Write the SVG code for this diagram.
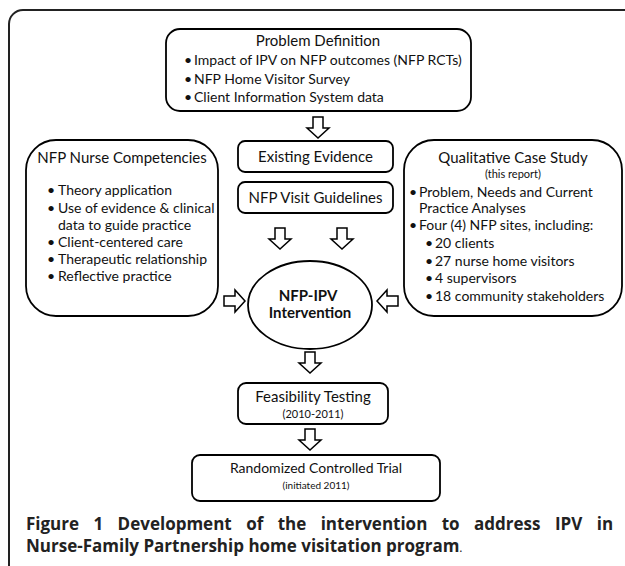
<svg xmlns="http://www.w3.org/2000/svg" width="625" height="566" viewBox="0 0 625 566">
<style>
.box{fill:#fff;stroke:#000;stroke-width:1.8}
.arr{fill:#fff;stroke:#000;stroke-width:1.5;stroke-linejoin:miter}
text{font-family:Lato,"Open Sans","Liberation Sans",sans-serif;fill:#111}
.t{font-size:15px}
.b{font-size:14px}
.s{font-size:11px}
.c{text-anchor:middle}
.bold{font-weight:bold}
.cap{font-family:"Open Sans","Liberation Sans",sans-serif;font-size:17px;font-weight:bold;fill:#222}
</style>
<defs>
<polygon id="down" class="arr" points="-5,0 5,0 5,11 11,11 0,21 -11,11 -5,11"/>
<polygon id="right" class="arr" points="0,-5 0,5 11,5 11,11 21,0 11,-11 11,-5"/>
<polygon id="left" class="arr" points="21,-5 21,5 10,5 10,11 0,0 10,-11 10,-5"/>
</defs>
<rect x="9" y="10" width="640" height="572" rx="14" fill="none" stroke="#222" stroke-width="2"/>

<g id="problem">
<rect class="box" x="166" y="29" width="305" height="82" rx="14"/>
<text class="t c" x="318" y="46">Problem Definition</text>
<text class="b" x="184" y="65">•</text><text class="b" x="194" y="65">Impact of IPV on NFP outcomes (NFP RCTs)</text>
<text class="b" x="184" y="84">•</text><text class="b" x="194" y="84">NFP Home Visitor Survey</text>
<text class="b" x="184" y="102">•</text><text class="b" x="194" y="102">Client Information System data</text>
</g>

<g id="existing">
<rect class="box" x="238" y="141" width="155" height="31" rx="7"/>
<text class="t c" x="315.5" y="162">Existing Evidence</text>
</g>

<g id="guidelines">
<rect class="box" x="238" y="182" width="155" height="31" rx="7"/>
<text class="t c" x="315.5" y="203">NFP Visit Guidelines</text>
</g>

<g id="competencies">
<rect class="box" x="26" y="140" width="192" height="176" rx="30"/>
<text class="t c" x="122" y="163">NFP Nurse Competencies</text>
<text class="b" x="47" y="195">•</text><text class="b" x="58" y="195">Theory application</text>
<text class="b" x="47" y="213">•</text><text class="b" x="58" y="213">Use of evidence &amp; clinical</text>
<text class="b" x="58" y="230">data to guide practice</text>
<text class="b" x="47" y="247">•</text><text class="b" x="58" y="247">Client-centered care</text>
<text class="b" x="47" y="264">•</text><text class="b" x="58" y="264">Therapeutic relationship</text>
<text class="b" x="47" y="281">•</text><text class="b" x="58" y="281">Reflective practice</text>
</g>

<g id="casestudy">
<rect class="box" x="404" y="140" width="218" height="176" rx="30"/>
<text class="t c" x="513" y="163">Qualitative Case Study</text>
<text class="s c" x="513" y="178">(this report)</text>
<text class="b" x="409" y="197">•</text><text class="b" x="419" y="197">Problem, Needs and Current</text>
<text class="b" x="419" y="213">Practice Analyses</text>
<text class="b" x="409" y="230">•</text><text class="b" x="419" y="230">Four (4) NFP sites, including:</text>
<text class="b" x="425" y="248">•</text><text class="b" x="435" y="248">20 clients</text>
<text class="b" x="425" y="266">•</text><text class="b" x="435" y="266">27 nurse home visitors</text>
<text class="b" x="425" y="283">•</text><text class="b" x="435" y="283">4 supervisors</text>
<text class="b" x="425" y="301">•</text><text class="b" x="435" y="301">18 community stakeholders</text>
</g>

<g id="intervention">
<ellipse class="box" cx="310" cy="305" rx="62" ry="44"/>
<text class="t c bold" x="308" y="301">NFP-IPV</text>
<text class="t c bold" x="310" y="318">Intervention</text>
</g>

<g id="feasibility">
<rect class="box" x="238" y="383" width="150" height="41" rx="8"/>
<text class="t c" x="313" y="402">Feasibility Testing</text>
<text class="s c" x="313" y="418">(2010-2011)</text>
</g>

<g id="rct">
<rect class="box" x="192" y="455" width="248" height="46" rx="8"/>
<text class="b c" x="316" y="473">Randomized Controlled Trial</text>
<text class="c" x="316" y="489" style="font-size:10px">(initiated 2011)</text>
</g>

<g id="connectors">
<use href="#down" x="318" y="117"/>
<use href="#down" x="280" y="228"/>
<use href="#down" x="342" y="228"/>
<use href="#right" x="224" y="301"/>
<use href="#left" x="377" y="301"/>
<use href="#down" x="310" y="352"/>
<use href="#down" x="310" y="429"/>
</g>

<g id="caption">
<text class="cap" x="26" y="530" style="word-spacing:10px">Figure 1 Development of the intervention to address IPV in</text>
<text class="cap" x="26" y="552">Nurse-Family Partnership home visitation program<tspan style="font-weight:normal;font-size:12px">.</tspan></text>
</g>
</svg>
